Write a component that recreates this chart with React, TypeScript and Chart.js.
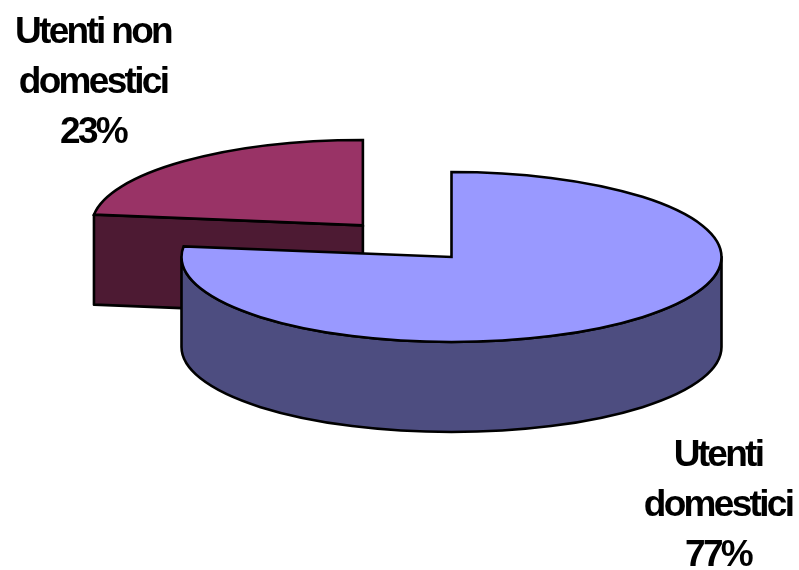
import React, { useEffect, useRef } from "react";
import { Chart, registerables } from "chart.js";

Chart.register(...registerables);

const categories = ["Utenti non domestici", "Utenti domestici"];
const labelLines = [["Utenti non", "domestici"], ["Utenti", "domestici"]];
const shares = [23, 77];
const topColors = ["#993366", "#9999FF"];
const wallColors = ["#4D1A33", "#4D4D80"];
const explodeOffsets = [536, 0];
const labelCenters = [[93, 43], [718, 466]];

const SQUISH = 0.315;
const DEPTH = 90;
const RADIUS = 270;
const START_ROTATION = -82.8;
const PIE_Y = 257;
const LINE = 2.6;

function arcGeometry(chart: any, i: number) {
  const arc: any = chart.getDatasetMeta(0).data[i];
  const p = arc.getProps(["x", "y", "startAngle", "endAngle", "outerRadius", "circumference"], true);
  const mid = (p.startAngle + p.endAngle) / 2;
  const o = (arc.options.offset || 0) / 4;
  const fix = 1 - Math.sin(Math.min(Math.PI, p.circumference));
  return {
    cx: p.x + Math.cos(mid) * o,
    dy: Math.sin(mid) * o,
    r: p.outerRadius + o * fix,
    start: p.startAngle,
    end: p.endAngle,
  };
}

function sy(g: any, a: number) {
  return PIE_Y + (g.dy + Math.sin(a) * g.r) * SQUISH;
}

function centerY(g: any) {
  return PIE_Y + g.dy * SQUISH;
}

function topPath(ctx: CanvasRenderingContext2D, g: any) {
  ctx.beginPath();
  ctx.moveTo(g.cx, centerY(g));
  ctx.ellipse(g.cx, centerY(g), g.r, g.r * SQUISH, 0, g.start, g.end);
  ctx.closePath();
}

function drawWalls(chart: any) {
  const ctx: CanvasRenderingContext2D = chart.ctx;
  ctx.save();
  ctx.lineWidth = LINE;
  ctx.strokeStyle = "#000";
  ctx.lineJoin = "round";
  shares.forEach((_, i) => {
    const g = arcGeometry(chart, i);
    ctx.fillStyle = wallColors[i];
    const cy = centerY(g);
    const rx = g.r;
    const ry = g.r * SQUISH;
    if (i === 0) {
      const ex = g.cx + Math.cos(g.start) * rx;
      const ey = sy(g, g.start);
      ctx.beginPath();
      ctx.moveTo(ex, ey);
      ctx.lineTo(g.cx, cy);
      ctx.lineTo(g.cx, cy + DEPTH);
      ctx.lineTo(ex, ey + DEPTH);
      ctx.closePath();
      ctx.fill();
      ctx.stroke();
    } else {
      ctx.beginPath();
      ctx.ellipse(g.cx, cy, rx, ry, 0, 0, Math.PI);
      ctx.lineTo(g.cx - rx, cy + DEPTH);
      ctx.ellipse(g.cx, cy + DEPTH, rx, ry, 0, Math.PI, 0, true);
      ctx.closePath();
      ctx.fill();
      ctx.stroke();
    }
  });
  ctx.restore();
}

const pie3d = {
  id: "pie3d",
  beforeDatasetsDraw(chart: any) {
    drawWalls(chart);
    const ctx = chart.ctx;
    const pivot = (chart.chartArea.top + chart.chartArea.bottom) / 2;
    ctx.save();
    ctx.translate(0, PIE_Y);
    ctx.scale(1, SQUISH);
    ctx.translate(0, -pivot);
  },
  afterDatasetsDraw(chart: any) {
    const ctx: CanvasRenderingContext2D = chart.ctx;
    ctx.restore();
    ctx.save();
    ctx.lineWidth = LINE;
    ctx.strokeStyle = "#000";
    ctx.lineJoin = "miter";
    shares.forEach((_, i) => {
      topPath(ctx, arcGeometry(chart, i));
      ctx.stroke();
    });
    ctx.fillStyle = "#000";
    ctx.font = "bold 37px 'Liberation Sans'";
    ctx.textAlign = "center";
    ctx.textBaseline = "alphabetic";
    (ctx as any).letterSpacing = "-2.7px";
    shares.forEach((v, i) => {
      const lines = [...labelLines[i], `${v}%`];
      lines.forEach((t, k) => ctx.fillText(t, labelCenters[i][0], labelCenters[i][1] + k * 50));
    });
    ctx.restore();
  },
};

export default function App() {
  const ref = useRef<HTMLCanvasElement>(null);
  useEffect(() => {
    document.body.style.margin = "0";
    const chart = new Chart(ref.current!, {
      type: "pie",
      plugins: [pie3d],
      data: {
        labels: categories,
        datasets: [
          {
            data: shares,
            backgroundColor: topColors,
            borderWidth: 0,
            offset: explodeOffsets,
            clip: false,
          } as any,
        ],
      },
      options: {
        responsive: false,
        animation: false,
        devicePixelRatio: 1,
        rotation: START_ROTATION,
        radius: RADIUS,
        layout: { padding: { left: 104 } },
        plugins: { legend: { display: false }, tooltip: { enabled: false } },
      },
    });
    return () => chart.destroy();
  }, []);
  return <canvas ref={ref} width={799} height={570} style={{ display: "block" }} />;
}
